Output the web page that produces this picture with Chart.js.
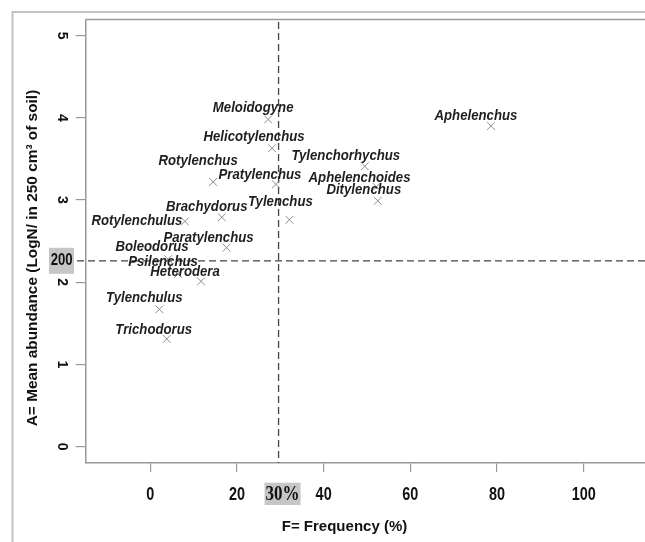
<!DOCTYPE html>
<html><head><meta charset="utf-8">
<script src="https://cdn.jsdelivr.net/npm/chart.js@4.4.1/dist/chart.umd.min.js"></script>
<style>html,body{margin:0;padding:0;background:#fff;} canvas{display:block;}</style>
</head><body>
<canvas id="c" width="645" height="542"></canvas>
<script>
// ---- data ----
const genera = ['Meloidogyne','Helicotylenchus','Rotylenchus','Pratylenchus','Tylenchus','Brachydorus','Rotylenchulus','Paratylenchus','Boleodorus','Psilenchus','Heterodera','Tylenchulus','Trichodorus','Aphelenchus','Tylenchorhychus','Aphelenchoides','Ditylenchus'];
const frequency = [27.2, 28.1, 14.5, 29.0, 32.1, 16.5, 8.0, 17.6, 4.1, 6.4, 11.7, 2.1, 3.8, 78.6, 49.5, 52.2, 52.5];
const abundance = [3.98, 3.63, 3.22, 3.19, 2.76, 2.79, 2.74, 2.42, 2.28, 2.10, 2.01, 1.67, 1.31, 3.90, 3.41, 3.16, 2.99];
const xTicks = [0, 20, 40, 60, 80, 100];
const yTicks = [0, 1, 2, 3, 4, 5];
const freqThreshold = 29.6;
const freqThresholdLabel = '30%';
const abundThreshold = 2.26;
const abundThresholdLabel = '200';
const xTitle = 'F= Frequency (%)';
const yTitle = 'A= Mean abundance (LogN/ in 250 cm\u00B3 of soil)';

// ---- layout (label offsets in px relative to each point) ----
const labelOffsets = [[-15,-12],[-18,-11],[-15,-21],[-16,-10],[-9,-18],[-15,-10],[-48,-1],[-18,-10],[-16,-12],[-15,-12],[-16,-9],[-15,-11],[-13,-9],[-15,-10],[-19,-10],[-17,-9],[-14,-11]];
const X_MIN = -14.9, X_MAX = 114.15, Y_MIN = -0.2, Y_MAX = 5.196;

function drawText(ctx, s, x, y, font, sx, color, rot) {
  ctx.save();
  ctx.translate(x, y);
  if (rot) ctx.rotate(rot);
  ctx.scale(sx, 1);
  ctx.font = font;
  ctx.fillStyle = color;
  ctx.textAlign = 'center';
  ctx.textBaseline = 'middle';
  ctx.fillText(s, 0, 0);
  ctx.restore();
}

const decor = {
  id: 'decor',
  beforeDraw(chart) {
    const ctx = chart.ctx;
    ctx.save();
    ctx.fillStyle = '#fff';
    ctx.fillRect(0, 0, chart.width, chart.height);
    ctx.strokeStyle = '#c3c3c3';
    ctx.lineWidth = 2;
    ctx.beginPath();
    ctx.moveTo(12.5, 542); ctx.lineTo(12.5, 12); ctx.lineTo(645, 12);
    ctx.stroke();
    ctx.restore();
  },
  afterDraw(chart) {
    const {ctx, chartArea, scales: {x, y}} = chart;
    ctx.save();
    ctx.strokeStyle = '#9a9a9a';
    ctx.lineWidth = 1.5;
    ctx.beginPath();
    ctx.moveTo(chartArea.left, chartArea.top);
    ctx.lineTo(chartArea.right, chartArea.top);
    ctx.stroke();
    ctx.restore();

    // x tick labels: take the library's own label items, draw them in a condensed face
    x.ticks.forEach((t, i) => {
      drawText(ctx, String(t.label), x.getPixelForTick(i), 494.5,
        'bold 18.5px "Liberation Sans", Arial, sans-serif', 0.78, '#111');
    });

    const meta = chart.getDatasetMeta(0);
    meta.data.forEach((pt, i) => {
      drawText(ctx, genera[i], pt.x + labelOffsets[i][0], pt.y + labelOffsets[i][1],
        'italic bold 15px "Liberation Sans", Arial, sans-serif', 0.88, '#1e1e1e');
    });

    const yPix = y.getPixelForValue(abundThreshold);
    ctx.save();
    ctx.fillStyle = '#c6c6c6';
    ctx.fillRect(49, yPix - 13, 25, 26);
    ctx.restore();
    drawText(ctx, abundThresholdLabel, 61.7, yPix, 'bold 16px "Liberation Sans", Arial, sans-serif', 0.82, '#111');

    const xPix = x.getPixelForValue(freqThreshold);
    ctx.save();
    ctx.fillStyle = '#c6c6c6';
    ctx.fillRect(xPix - 14, 482.7, 36, 22.3);
    ctx.restore();
    drawText(ctx, freqThresholdLabel, xPix + 4, 494.5, 'bold 20px "Liberation Serif", "Times New Roman", serif', 0.85, '#111');

    drawText(ctx, xTitle, 344.5, 527, 'bold 15px "Liberation Sans", Arial, sans-serif', 1, '#111');
    drawText(ctx, yTitle, 33, 258, 'bold 15.4px "Liberation Sans", Arial, sans-serif', 1, '#111', -Math.PI / 2);
  }
};

new Chart(document.getElementById('c'), {
  type: 'scatter',
  data: {
    datasets: [
      {
        data: genera.map((g, i) => ({x: frequency[i], y: abundance[i]})),
        pointStyle: 'crossRot',
        pointRadius: 5.5,
        pointHoverRadius: 5.5,
        pointBorderColor: '#8f8f8f',
        pointBackgroundColor: 'rgba(0,0,0,0)',
        pointBorderWidth: 1
      },
      {
        data: [{x: -16.9, y: abundThreshold}, {x: X_MAX, y: abundThreshold}],
        showLine: true, borderColor: '#444', borderWidth: 1.3, borderDash: [7, 4],
        pointRadius: 0, pointHoverRadius: 0, clip: false
      },
      {
        data: [{x: freqThreshold, y: 5.166}, {x: freqThreshold, y: Y_MIN}],
        showLine: true, borderColor: '#444', borderWidth: 1.3, borderDash: [7, 4],
        pointRadius: 0, pointHoverRadius: 0, clip: false
      }
    ]
  },
  options: {
    responsive: false,
    animation: false,
    devicePixelRatio: 1,
    events: [],
    layout: {autoPadding: false, padding: {top: 19.5, left: 0, right: 0, bottom: 0}},
    plugins: {legend: {display: false}, tooltip: {enabled: false}},
    scales: {
      x: {
        type: 'linear', min: X_MIN, max: X_MAX,
        afterBuildTicks: s => { s.ticks = xTicks.map(v => ({value: v})); },
        afterFit: s => { s.height = 79; },
        grid: {drawOnChartArea: false, drawTicks: true, tickLength: 9, color: '#999', tickColor: '#999', lineWidth: 1.2},
        border: {display: true, color: '#999', width: 1.5},
        ticks: {
          font: {family: '"Liberation Sans", Arial, sans-serif', size: 18.5, weight: 'bold'},
          color: 'rgba(0,0,0,0)', padding: 12, autoSkip: false, maxRotation: 0, minRotation: 0
        }
      },
      y: {
        type: 'linear', min: Y_MIN, max: Y_MAX,
        afterBuildTicks: s => { s.ticks = yTicks.map(v => ({value: v})); },
        afterFit: s => { s.width = 85.7; },
        grid: {drawOnChartArea: false, drawTicks: true, tickLength: 10, color: '#999', tickColor: '#999', lineWidth: 1.2},
        border: {display: true, color: '#999', width: 1.5},
        ticks: {
          font: {family: '"Liberation Sans", Arial, sans-serif', size: 14, weight: 'bold'},
          color: '#111', padding: 10, autoSkip: false, minRotation: -90, maxRotation: -90, crossAlign: 'center'
        }
      }
    }
  },
  plugins: [decor]
});
</script>
</body></html>
